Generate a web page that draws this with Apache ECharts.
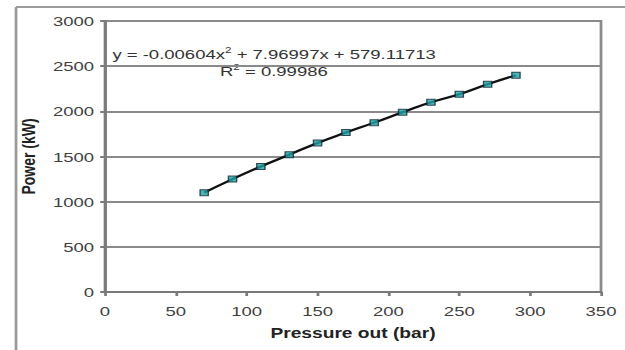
<!DOCTYPE html>
<html>
<head>
<meta charset="utf-8">
<script src="https://cdn.jsdelivr.net/npm/echarts@6/dist/echarts.min.js"></script>
<style>
html,body{margin:0;padding:0;background:#fff;overflow:hidden}
#wrap{width:625px;height:350px;overflow:hidden;position:relative}
#c{width:456px;height:350px;transform:scaleX(1.3706);transform-origin:0 0;position:absolute;left:0;top:0}
</style>
</head>
<body>
<div id="wrap"><div id="c"></div></div>
<script>
var pressure = [70, 90, 110, 130, 150, 170, 190, 210, 230, 250, 270, 290];
var power = [1100, 1250, 1390, 1520, 1650, 1765, 1875, 1990, 2100, 2190, 2300, 2400];
var xTitle = 'Pressure out (bar)';
var yTitle = 'Power (kW)';
var eqText = 'y = -0.00604x{sup|2} + 7.96997x + 579.11713';
var r2Text = 'R{sup|2} = 0.99986';

var pts = pressure.map(function (p, i) { return [p, power[i]]; });
var chart = echarts.init(document.getElementById('c'), null, {renderer: 'svg'});
var fontFam = 'Liberation Sans, Arial, sans-serif';
var gridCol = '#8a8a8a';
chart.setOption({
  animation: false,
  backgroundColor: '#fff',
  grid: {left: 76.6, right: 17.5, top: 21, bottom: 58, show: true, borderColor: gridCol, borderWidth: 2},
  xAxis: {
    type: 'value', min: 0, max: 350, interval: 50,
    name: xTitle, nameLocation: 'middle', nameGap: 34,
    nameTextStyle: {fontFamily: fontFam, fontWeight: 'bold', fontSize: 14, color: '#222'},
    axisLine: {lineStyle: {color: '#7a7a7a', width: 2}},
    axisTick: {show: true, length: 4, lineStyle: {color: '#7a7a7a', width: 2}},
    axisLabel: {fontFamily: fontFam, fontSize: 13.5, color: '#404040', margin: 12,
      formatter: function (v) { return String(v); }},
    splitLine: {show: false}
  },
  yAxis: {
    type: 'value', min: 0, max: 3000, interval: 500,
    name: yTitle, nameLocation: 'middle', nameGap: 46, nameRotate: 90,
    nameTextStyle: {fontFamily: fontFam, fontWeight: 'bold', fontSize: 14, color: '#222'},
    axisLine: {show: true, lineStyle: {color: '#7a7a7a', width: 2}},
    axisTick: {show: true, length: 3.5, lineStyle: {color: '#7a7a7a', width: 2}},
    axisLabel: {fontFamily: fontFam, fontSize: 13.5, color: '#404040', margin: 8,
      formatter: function (v) { return String(v); }},
    splitLine: {show: true, lineStyle: {color: gridCol, width: 2}}
  },
  series: [
    {
      type: 'line', data: pts, smooth: true, symbol: 'none',
      lineStyle: {color: '#111', width: 2.2}, z: 2
    },
    {
      type: 'scatter', data: pts, symbol: 'rect', symbolSize: 6,
      itemStyle: {color: '#1fa3a3', borderColor: '#123', borderWidth: 1}, z: 3
    }
  ],
  graphic: [
    {type: 'line', shape: {x1: 11.7, y1: 7, x2: 460, y2: 7}, style: {stroke: '#9a9a9a', lineWidth: 2}},
    {type: 'line', shape: {x1: 11.7, y1: 7, x2: 11.7, y2: 350}, style: {stroke: '#9a9a9a', lineWidth: 2}},
    {type: 'text', left: 82, top: 46, style: {
      text: eqText, fontFamily: fontFam, fontSize: 13.5, fill: '#333',
      rich: {sup: {fontSize: 8.5, verticalAlign: 'top', padding: [0, 0, 7, 0], fill: '#333', fontFamily: fontFam}}
    }},
    {type: 'text', left: 160.5, top: 63, style: {
      text: r2Text, fontFamily: fontFam, fontSize: 13.5, fill: '#333',
      rich: {sup: {fontSize: 8.5, verticalAlign: 'top', padding: [0, 0, 7, 0], fill: '#333', fontFamily: fontFam}}
    }}
  ]
});
</script>
</body>
</html>
